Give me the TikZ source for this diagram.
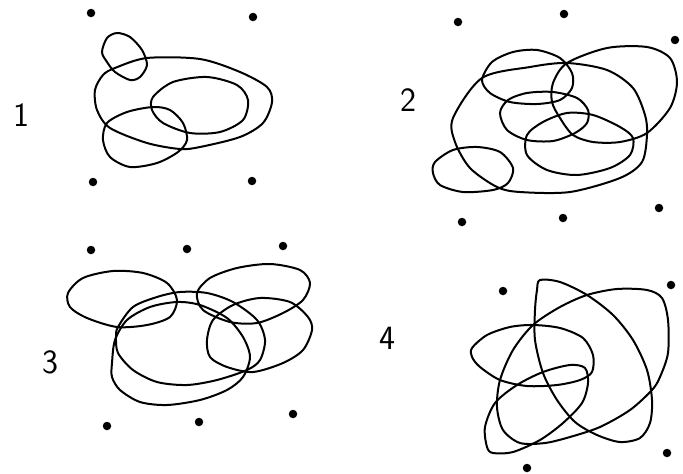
\documentclass[tikz,border=0pt]{standalone}
\usepackage{tikz}
\tikzset{
  ring/.style={line width=2pt, line join=round},
  spot/.style={circle, fill=black, inner sep=0pt, minimum size=8.5pt},
  digit/.style={font=\sffamily\fontsize{34}{34}\selectfont}
}
\begin{document}
\begin{tikzpicture}[x=1pt, y=-1pt]
\useasboundingbox (0,0) rectangle (683,474);

% Dots
\foreach \p [count=\i] in {(91,13),(253,17),(93,182),(252,181),
  (458,22),(564,14),(675,40),(462,222),(563,218),(659,208),
  (91,250),(187,249),(283,246),(107,426),(199,422),(293,414),
  (503,291),(671,285),(667,453),(527,468)}
  \node[spot] (d\i) at \p {};

% Labels
\node[digit] (n1) at (21,115) {1};
\node[digit] (n2) at (408,100) {2};
\node[digit] (n3) at (50,362) {3};
\node[digit] (n4) at (387,338) {4};

% Figure 1
\draw[ring] plot[smooth cycle] coordinates {(102,52) (107,38) (117,33) (130,37) (142,50) (147,65) (140,77) (130,80) (115,72) (107,62)};
\draw[ring] plot[smooth cycle] coordinates {(147,58) (200,59) (240,72) (267,87) (272,102) (263,123) (240,137) (200,147) (180,149) (147,143) (110,128) (97,110) (95,90) (103,75) (115,68)};
\draw[ring] plot[smooth cycle] coordinates {(153,97) (173,82) (207,77) (237,85) (248,100) (243,120) (220,132) (190,133) (163,123) (152,110)};
\draw[ring] plot[smooth cycle] coordinates {(107,123) (127,112) (153,107) (170,110) (183,123) (187,140) (178,152) (157,163) (130,167) (110,157) (103,140)};

% Figure 2
\draw[ring] plot[smooth cycle] coordinates {(453,118) (482,78) (530,67) (567,63) (607,70) (633,88) (645,115) (647,135) (642,162) (620,178) (570,192) (520,192) (497,187) (470,168) (455,142)};
\draw[ring] plot[smooth cycle] coordinates {(567,63) (607,48) (647,47) (670,58) (677,82) (670,108) (647,133) (620,142) (593,142) (573,135) (560,118) (552,102) (553,83)};
\draw[ring] plot[smooth cycle] coordinates {(482,80) (492,62) (513,52) (537,50) (560,58) (572,73) (572,88) (560,100) (537,104) (510,102) (490,93)};
\draw[ring] plot[smooth cycle] coordinates {(500,113) (508,100) (527,93) (553,92) (577,98) (588,110) (587,123) (575,133) (553,141) (527,140) (507,130)};
\draw[ring] plot[smooth cycle] coordinates {(527,135) (543,122) (567,113) (593,115) (620,127) (633,138) (630,155) (610,168) (577,175) (547,170) (527,155)};
\draw[ring] plot[smooth cycle] coordinates {(435,162) (453,150) (477,147) (500,152) (513,168) (508,183) (493,190) (463,192) (440,185) (433,173)};

% Figure 3
\draw[ring] plot[smooth cycle] coordinates {(68,293) (83,278) (113,271) (143,273) (167,283) (177,300) (170,317) (147,325) (117,327) (87,318) (70,307)};
\draw[ring] plot[smooth cycle] coordinates {(197,293) (210,278) (237,268) (270,264) (300,270) (310,283) (303,300) (283,313) (257,323) (230,322) (203,310)};
\draw[ring] plot[smooth cycle] coordinates {(118,327) (133,307) (157,297) (180,292) (207,293) (233,302) (257,320) (265,340) (260,360) (247,370) (217,380) (187,385) (157,382) (133,370) (118,353) (116,337)};
\draw[ring] plot[smooth cycle] coordinates {(112,363) (115,340) (127,320) (150,307) (177,302) (200,305) (227,318) (243,337) (250,357) (243,377) (227,390) (200,400) (167,405) (140,402) (120,390) (112,377)};
\draw[ring] plot[smooth cycle] coordinates {(207,340) (213,320) (233,305) (260,298) (290,302) (308,317) (312,330) (303,350) (283,363) (253,372) (227,367) (210,357)};

% Figure 4
\draw[ring] plot[smooth cycle] coordinates {(540,280) (560,282) (587,295) (613,315) (633,340) (647,370) (652,400) (650,423) (640,438) (620,442) (597,435) (575,422) (557,400) (543,373) (535,340) (535,310) (537,290)};
\draw[ring] plot[smooth cycle] coordinates {(533,325) (560,307) (587,295) (617,289) (647,290) (662,298) (668,320) (668,353) (660,377) (652,390) (630,410) (600,427) (570,437) (545,443) (520,443) (503,430) (497,407) (500,380) (513,350)};
\draw[ring] plot[smooth cycle] coordinates {(472,348) (487,335) (510,327) (533,325) (560,328) (583,338) (593,355) (592,372) (580,380) (557,385) (527,386) (500,380) (480,367) (472,357)};
\draw[ring] plot[smooth cycle] coordinates {(487,447) (485,427) (495,403) (517,385) (543,372) (570,365) (585,368) (588,383) (582,403) (563,423) (540,440) (513,452) (493,453)};
\end{tikzpicture}
\end{document}
